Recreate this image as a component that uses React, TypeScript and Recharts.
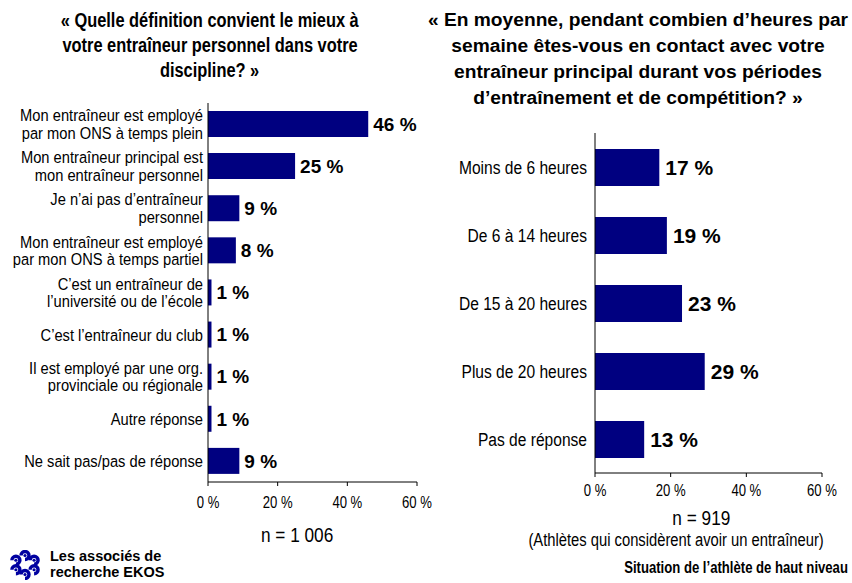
import { BarChart, Bar, XAxis, YAxis, LabelList } from 'recharts';

const NAVY = '#000080';
const SANS = '"Liberation Sans", Arial, sans-serif';
// no narrow face installed, so squeeze Liberation Sans to fake Arial Narrow
const SQUEEZE = 0.82;

const leftCategories = [
  'Mon entraîneur est employé\npar mon ONS à temps plein',
  'Mon entraîneur principal est\nmon entraîneur personnel',
  'Je n\u2019ai pas d\u2019entraîneur\npersonnel',
  'Mon entraîneur est employé\npar mon ONS à temps partiel',
  'C\u2019est un entraîneur de\nl\u2019université ou de l\u2019école',
  'C\u2019est l\u2019entraîneur du club',
  'Il est employé par une org.\nprovinciale ou régionale',
  'Autre réponse',
  'Ne sait pas/pas de réponse',
];
const leftValues = [46, 25, 9, 8, 1, 1, 1, 1, 9];

const rightCategories = [
  'Moins de 6 heures',
  'De 6 à 14 heures',
  'De 15 à 20 heures',
  'Plus de 20 heures',
  'Pas de réponse',
];
const rightValues = [17, 19, 23, 29, 13];

const xTicks = [0, 20, 40, 60];

const leftTitle = ['« Quelle définition convient le mieux à', 'votre entraîneur personnel dans votre', 'discipline? »'];
const rightTitle = [
  '« En moyenne, pendant combien d\u2019heures par',
  'semaine êtes-vous en contact avec votre',
  'entraîneur principal durant vos périodes',
  'd\u2019entraînement et de compétition? »',
];

function Narrow({ children, origin = 'center' }: { children: any; origin?: string }) {
  return (
    <span style={{ display: 'inline-block', whiteSpace: 'nowrap', transform: `scaleX(${SQUEEZE})`, transformOrigin: origin }}>
      {children}
    </span>
  );
}

function CategoryTick(props: any) {
  const { x, y, payload, fontSize, lineHeight, squeeze } = props;
  const lines = String(payload.value).split('\n');
  const start = -((lines.length - 1) * lineHeight) / 2 + fontSize * 0.35;
  return (
    <text transform={`translate(${x},${y}) scale(${squeeze},1)`} x={0} y={0} textAnchor="end" fontFamily={SANS} fontSize={fontSize} fill="#000">
      {lines.map((l, i) => (
        <tspan key={i} x={0} dy={i === 0 ? start : lineHeight}>{l}</tspan>
      ))}
    </text>
  );
}

function PercentTick(props: any) {
  const { x, y, payload } = props;
  return (
    <text transform={`translate(${x},${y}) scale(${SQUEEZE},1)`} x={0} y={0} dy="0.71em" textAnchor="middle" fontFamily={SANS} fontSize={16} fill="#000">
      {`${payload.value} %`}
    </text>
  );
}

function Logo() {
  const spots = [0, 60, 120, 180, 240, 300];
  return (
    <svg width={36} height={30} viewBox="0 0 36 30">
      {spots.map((a) => {
        const r = ((a + 30) * Math.PI) / 180;
        const cx = 18 + Math.cos(r) * 10.5;
        const cy = 15 + Math.sin(r) * 9.5;
        return (
          <g key={a}>
            <path d={`M ${cx - 4} ${cy} a 4 4 0 1 1 4 4`} fill="none" stroke="#0000a0" strokeWidth={3.4} />
            <circle cx={cx} cy={cy} r={1.6} fill="#0000a0" />
          </g>
        );
      })}
    </svg>
  );
}

export default function App() {
  const leftData = leftCategories.map((name, i) => ({ name, value: leftValues[i] }));
  const rightData = rightCategories.map((name, i) => ({ name, value: rightValues[i] }));

  return (
    <div style={{ position: 'absolute', left: 0, top: 0, width: 852, height: 583, background: '#fff', overflow: 'hidden', fontFamily: SANS }}>
      <div style={{ position: 'absolute', left: 10, width: 400, top: 8, textAlign: 'center', fontWeight: 'bold', fontSize: 20, lineHeight: '25px' }}>
        {leftTitle.map((t, i) => <div key={i}><Narrow>{t}</Narrow></div>)}
      </div>
      <div style={{ position: 'absolute', left: 418, width: 440, top: 7, textAlign: 'center', fontWeight: 'bold', fontSize: 19.2, lineHeight: '26px', whiteSpace: 'nowrap' }}>
        {rightTitle.map((t, i) => <div key={i}>{t}</div>)}
      </div>

      <div style={{ position: 'absolute', left: 0, top: 0 }}>
        <BarChart width={440} height={583} data={leftData} layout="vertical" margin={{ top: 103, right: 23, bottom: 71, left: 0 }} style={{ overflow: 'visible' }}>
          <XAxis type="number" domain={[0, 60]} ticks={xTicks} height={30}
            axisLine={{ stroke: '#000' }} tickLine={{ stroke: '#000' }} tickSize={4} tickMargin={11} tick={<PercentTick />} />
          <YAxis type="category" dataKey="name" width={208} axisLine={{ stroke: '#000' }} tickLine={false} tickSize={0} tickMargin={5}
            tick={<CategoryTick fontSize={17} lineHeight={17.5} squeeze={0.865} />} interval={0} />
          <Bar dataKey="value" fill={NAVY} barSize={26} isAnimationActive={false}>
            <LabelList dataKey="value" position="right" offset={5} formatter={(v: any) => `${v} %`}
              style={{ fill: '#000', fontFamily: SANS, fontWeight: 'bold', fontSize: 19 }} />
          </Bar>
        </BarChart>
      </div>

      <div style={{ position: 'absolute', left: 420, top: 0 }}>
        <BarChart width={432} height={583} data={rightData} layout="vertical" margin={{ top: 133, right: 30, bottom: 80, left: 0 }} style={{ overflow: 'visible' }}>
          <XAxis type="number" domain={[0, 60]} ticks={xTicks} height={30}
            axisLine={{ stroke: '#000' }} tickLine={{ stroke: '#000' }} tickSize={4} tickMargin={8} tick={<PercentTick />} />
          <YAxis type="category" dataKey="name" width={175} axisLine={{ stroke: '#000' }} tickLine={false} tickSize={0} tickMargin={8}
            tick={<CategoryTick fontSize={19} lineHeight={19} squeeze={SQUEEZE} />} interval={0} />
          <Bar dataKey="value" fill={NAVY} barSize={37} isAnimationActive={false}>
            <LabelList dataKey="value" position="right" offset={6} formatter={(v: any) => `${v} %`}
              style={{ fill: '#000', fontFamily: SANS, fontWeight: 'bold', fontSize: 21 }} />
          </Bar>
        </BarChart>
      </div>

      <div style={{ position: 'absolute', left: 197, width: 200, top: 522, textAlign: 'center', fontSize: 21, lineHeight: '26px' }}>
        <Narrow>n = 1 006</Narrow>
      </div>
      <div style={{ position: 'absolute', left: 601, width: 200, top: 505, textAlign: 'center', fontSize: 21, lineHeight: '26px' }}>
        <Narrow>n = 919</Narrow>
      </div>
      <div style={{ position: 'absolute', left: 476, width: 400, top: 529, textAlign: 'center', fontSize: 18, lineHeight: '22px' }}>
        <Narrow>(Athlètes qui considèrent avoir un entraîneur)</Narrow>
      </div>
      <div style={{ position: 'absolute', right: 4, top: 558, fontWeight: 'bold', fontSize: 16, lineHeight: '20px', textAlign: 'right' }}>
        <Narrow origin="right">Situation de l&#8217;athlète de haut niveau</Narrow>
      </div>

      <div style={{ position: 'absolute', left: 7, top: 550 }}><Logo /></div>
      <div style={{ position: 'absolute', left: 50, top: 548, fontWeight: 'bold', fontSize: 14.5, lineHeight: '16px' }}>
        <div>Les associés de</div>
        <div>recherche EKOS</div>
      </div>
    </div>
  );
}
